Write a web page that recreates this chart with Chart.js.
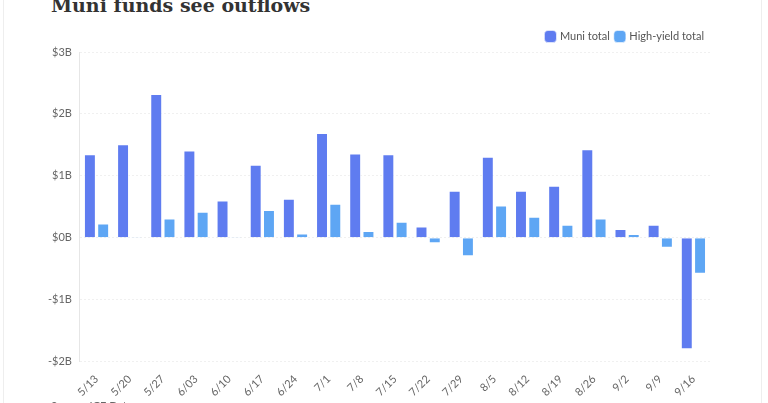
<!DOCTYPE html>
<html>
<head>
<meta charset="utf-8">
<script src="https://cdn.jsdelivr.net/npm/chart.js@4"></script>
<style>
  html, body { margin: 0; padding: 0; background: #fff; }
  #wrap { position: relative; width: 768px; height: 403px; overflow: hidden; background: #fff; }
  #frame { position: absolute; left: 3px; top: -5px; width: 757px; height: 420px; border: 1px solid #eeeeee; }
  #title { position: absolute; left: 51px; top: -6px; line-height: 22px; font-family: "DejaVu Serif", serif; font-size: 19px; font-weight: bold; color: #333; white-space: nowrap; }
  #source { position: absolute; left: 51px; top: 399px; font-family: Lato, sans-serif; font-size: 11px; color: #666; }
  #box { position: absolute; left: 40px; top: 20px; width: 690px; height: 382px; }
</style>
</head>
<body>
<div id="wrap">
  <div id="frame"></div>
  <div id="title">Muni funds see outflows</div>
  <div id="box"><canvas id="cv"></canvas></div>
  <div id="source">Source: ICE Data</div>
</div>
<script>
const categories = ["5/13","5/20","5/27","6/03","6/10","6/17","6/24","7/1","7/8","7/15","7/22","7/29","8/5","8/12","8/19","8/26","9/2","9/9","9/16"];
const muniTotal = [1.35,1.51,2.32,1.41,0.60,1.18,0.63,1.69,1.36,1.35,0.18,0.76,1.31,0.76,0.84,1.43,0.14,0.21,-1.80];
const highYieldTotal = [0.23,0.02,0.31,0.42,0.02,0.45,0.07,0.55,0.11,0.26,-0.09,-0.30,0.52,0.34,0.21,0.31,0.06,-0.16,-0.58];
const seriesNames = ["Muni total","High-yield total"];
const yTicks = [-2,-1,0,1,2,3];

Chart.defaults.font.family = "Lato, sans-serif";
Chart.defaults.font.size = 11;
Chart.defaults.color = "#666";

new Chart(document.getElementById("cv"), {
  type: "bar",
  data: {
    labels: categories,
    datasets: [
      { label: seriesNames[0], data: muniTotal, backgroundColor: "#5f7cf0", borderColor: "rgba(255,255,255,0.6)", borderWidth: 1, categoryPercentage: 0.8, barPercentage: 0.9 },
      { label: seriesNames[1], data: highYieldTotal, backgroundColor: "#5ea6f4", borderColor: "rgba(255,255,255,0.6)", borderWidth: 1, categoryPercentage: 0.8, barPercentage: 0.9 }
    ]
  },
  options: {
    responsive: true,
    maintainAspectRatio: false,
    animation: false,
    layout: { padding: { right: 20, top: 5, bottom: 0 } },
    plugins: {
      legend: {
        position: "top",
        align: "end",
        labels: { usePointStyle: true, pointStyle: "rectRounded", boxWidth: 8, boxHeight: 10, padding: 6, color: "#555", font: { size: 11 } }
      },
      tooltip: { enabled: false }
    },
    scales: {
      x: {
        grid: { display: false },
        border: { display: false },
        ticks: { maxRotation: 45, minRotation: 45, autoSkip: false, color: "#666" }
      },
      y: {
        min: -2, max: 3,
        afterBuildTicks: (axis) => { axis.ticks = yTicks.map(v => ({ value: v })); },
        grid: { color: "#f0f0f0", drawTicks: false },
        border: { display: true, color: "#e6e6e6", dash: [2, 2] },
        ticks: { padding: 8, color: "#666", callback: (v) => (v < 0 ? "-$" + Math.abs(v) : "$" + v) + "B" }
      }
    }
  }
});
</script>
</body>
</html>
